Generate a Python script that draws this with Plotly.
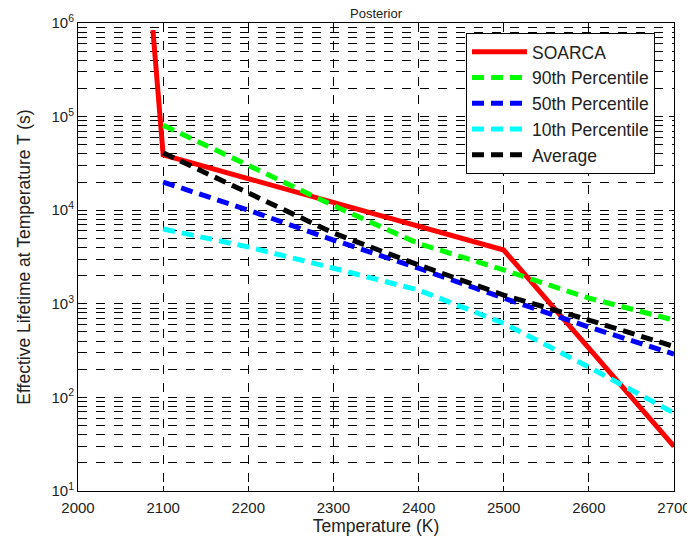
import plotly.graph_objects as go

# ---- data ----
temps_soarca = [2088, 2100, 2500, 2700]
soarca = [8.4e5, 3.9e4, 3.75e3, 30]

temps = [2100, 2200, 2300, 2400, 2500, 2600, 2700]
p90 = [8.1e4, 3.0e4, 1.12e4, 4.4e3, 2.3e3, 1.15e3, 670]
p50 = [2.0e4, 1.0e4, 4.8e3, 2.4e3, 1.15e3, 565, 290]
p10 = [6.3e3, 4.05e3, 2.4e3, 1.4e3, 620, 211, 68]
avg = [4.1e4, 1.52e4, 5.7e3, 2.6e3, 1.24e3, 670, 350]

x_ticks = [2000, 2100, 2200, 2300, 2400, 2500, 2600, 2700]
y_tickvals = [10, 100, 1000, 10000, 100000, 1000000]
y_ticktext = ["10<sup>1</sup>", "10<sup>2</sup>", "10<sup>3</sup>",
              "10<sup>4</sup>", "10<sup>5</sup>", "10<sup>6</sup>"]

series = [
    ("SOARCA", temps_soarca, soarca, "#ff0000", "solid"),
    ("90th Percentile", temps, p90, "#00ff00", "12px,7px"),
    ("50th Percentile", temps, p50, "#0000ff", "12px,7px"),
    ("10th Percentile", temps, p10, "#00ffff", "12px,7px"),
    ("Average", temps, avg, "#000000", "12px,7px"),
]

fig = go.Figure()
for name, xs, ys, color, dash in series:
    fig.add_trace(go.Scatter(
        x=xs, y=ys, mode="lines", name=name, legendgroup=name,
        line=dict(color=color, width=5, dash=dash),
    ))

font_family = "Liberation Sans, Arial, sans-serif"

# page has an 8px body margin; figure is sized to fill the rest of the window
fig.update_layout(
    width=687, height=532,
    margin=dict(l=70, r=21, t=15, b=49, autoexpand=False),
    paper_bgcolor="white", plot_bgcolor="white",
    font=dict(family=font_family, size=15, color="#222222"),
    title=dict(text="Posterior", x=(70 + 666) / 2 / 687, xanchor="center",
               y=0.999, yanchor="top", yref="container",
               font=dict(size=13, color="#222222")),
    legend=dict(
        x=0.651, y=0.979, xanchor="left", yanchor="top",
        bgcolor="white", bordercolor="black", borderwidth=1,
        font=dict(size=17.5, color="#222222"),
        itemwidth=55, tracegroupgap=0,
    ),
    showlegend=True,
)

fig.update_xaxes(
    range=[2000, 2700], tickvals=x_ticks, automargin=False,
    showline=True, linecolor="black", linewidth=1, mirror="ticks",
    ticks="inside", ticklen=5, tickcolor="black", ticklabelstandoff=3,
    showgrid=True, gridcolor="black", gridwidth=1, griddash="dash",
    zeroline=False,
    title=dict(text="Temperature (K)", standoff=1, font=dict(size=17.5)),
)
fig.update_yaxes(
    type="log", range=[1, 6], automargin=False,
    tickvals=y_tickvals, ticktext=y_ticktext,
    showline=True, linecolor="black", linewidth=1, mirror="ticks",
    ticks="inside", ticklen=5, tickcolor="black",
    showgrid=True, gridcolor="black", gridwidth=1, griddash="dash",
    minor=dict(showgrid=True, gridcolor="black", gridwidth=1, griddash="dash",
               dtick="D1"),
    zeroline=False,
    title=dict(text="Effective Lifetime at Temperature T (s)", standoff=16,
               font=dict(size=17.5)),
)

fig.write_html("out.html")
